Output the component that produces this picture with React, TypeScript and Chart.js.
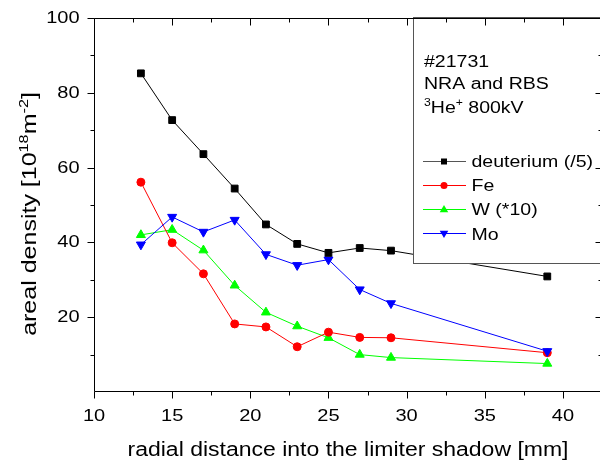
import React, { useEffect, useRef } from "react";
import { Chart, registerables } from "chart.js";

Chart.register(...registerables);

// ---- data ----
const distances = [13, 15, 17, 19, 21, 23, 25, 27, 29, 39];
const deuterium = [85.2, 72.7, 63.6, 54.4, 44.8, 39.6, 37.2, 38.5, 37.8, 30.9];
const iron = [56.1, 39.9, 31.6, 18.2, 17.4, 12.1, 16.0, 14.6, 14.5, 10.5];
const tungsten = [42.0, 43.4, 37.9, 28.5, 21.3, 17.6, 14.5, 10.0, 9.2, 7.6];
const molybdenum = [39.4, 46.8, 42.8, 46.0, 36.8, 33.9, 35.4, 27.4, 23.7, 10.9];
const seriesNames = ["deuterium (/5)", "Fe", "W (*10)", "Mo"];
const seriesColors = ["#000000", "#ff0000", "#00ff00", "#0000ff"];
const xTickValues = [10, 15, 20, 25, 30, 35, 40];
const xMinorTicks = [12.5, 17.5, 22.5, 27.5, 32.5, 37.5];
const yTickValues = [20, 40, 60, 80, 100];
const yMinorTicks = [10, 30, 50, 70, 90];
const infoLines = ["#21731", "NRA and RBS"];
const xTitle = "radial distance into the limiter shadow [mm]";

const FONT = '"Liberation Sans", Arial, Helvetica, sans-serif';

type Seg = { t: string; sup?: boolean };

function drawRich(
  ctx: CanvasRenderingContext2D,
  segs: Seg[],
  x: number,
  y: number,
  size: number,
  align: "left" | "center" | "right",
  stretch: number,
  rot = 0
) {
  const supSize = Math.round(size * 0.65);
  ctx.save();
  ctx.translate(x, y);
  if (rot) ctx.rotate(rot);
  ctx.scale(stretch, 1);
  ctx.textBaseline = "alphabetic";
  ctx.textAlign = "left";
  ctx.fillStyle = "#000";
  let total = 0;
  const widths = segs.map((s) => {
    ctx.font = `${s.sup ? supSize : size}px ${FONT}`;
    const w = ctx.measureText(s.t).width;
    total += w;
    return w;
  });
  let cx = align === "center" ? -total / 2 : align === "right" ? -total : 0;
  segs.forEach((s, i) => {
    ctx.font = `${s.sup ? supSize : size}px ${FONT}`;
    ctx.fillText(s.t, cx, s.sup ? -size * 0.42 : 0);
    cx += widths[i];
  });
  ctx.restore();
}

function drawMarker(ctx: CanvasRenderingContext2D, kind: string, x: number, y: number, r: number, color: string) {
  ctx.save();
  ctx.fillStyle = color;
  ctx.beginPath();
  if (kind === "rect") {
    ctx.rect(x - r, y - r, 2 * r, 2 * r);
  } else if (kind === "circle") {
    ctx.arc(x, y, r, 0, Math.PI * 2);
  } else if (kind === "up") {
    ctx.moveTo(x, y - r);
    ctx.lineTo(x + r * 0.95, y + r * 0.6);
    ctx.lineTo(x - r * 0.95, y + r * 0.6);
    ctx.closePath();
  } else {
    ctx.moveTo(x, y + r);
    ctx.lineTo(x + r * 0.95, y - r * 0.6);
    ctx.lineTo(x - r * 0.95, y - r * 0.6);
    ctx.closePath();
  }
  ctx.fill();
  ctx.restore();
}

const framePlugin = {
  id: "originFrame",
  afterDatasetsDraw(chart: any) {
    const ctx: CanvasRenderingContext2D = chart.ctx;
    const ca = chart.chartArea;
    const xs = chart.scales.x;
    const ys = chart.scales.y;
    const L = Math.round(ca.left) + 0.5;
    const R = Math.round(ca.right) + 0.5;
    const T = Math.round(ca.top) + 0.5;
    const B = Math.round(ca.bottom) - 0.5;

    // legend / info box
    ctx.save();
    ctx.fillStyle = "#ffffff";
    ctx.fillRect(413, 17, 220, 246);
    ctx.strokeStyle = "#555555";
    ctx.lineWidth = 1;
    ctx.strokeRect(413.5, 17.5, 220, 246);
    ctx.restore();

    drawRich(ctx, [{ t: infoLines[0] }], 424, 66.5, 16, "left", 1.22);
    drawRich(ctx, [{ t: infoLines[1] }], 424, 89, 16, "left", 1.22);
    drawRich(
      ctx,
      [{ t: "3", sup: true }, { t: "He" }, { t: "+", sup: true }, { t: " 800kV" }],
      424,
      112.5,
      16,
      "left",
      1.22
    );
    const kinds = ["rect", "circle", "up", "down"];
    const sizes = [3, 3.5, 4.5, 4.5];
    seriesNames.forEach((name, i) => {
      const my = 160.5 + i * 24.2;
      ctx.save();
      ctx.strokeStyle = i === 0 ? "#555555" : seriesColors[i];
      ctx.lineWidth = 1;
      ctx.beginPath();
      ctx.moveTo(423, Math.round(my) + 0.5);
      ctx.lineTo(466, Math.round(my) + 0.5);
      ctx.stroke();
      ctx.restore();
      drawMarker(ctx, kinds[i], 444, Math.round(my) + 0.5, sizes[i], seriesColors[i]);
      drawRich(ctx, [{ t: name }], 471.5, my + 6.5, 16, "left", 1.22);
    });

    // frame
    ctx.save();
    ctx.strokeStyle = "#000";
    ctx.lineWidth = 1;
    ctx.beginPath();
    ctx.moveTo(L, T);
    ctx.lineTo(R, T);
    ctx.lineTo(R, B);
    ctx.lineTo(L, B);
    ctx.closePath();
    ctx.stroke();

    const major = 7;
    const minor = 4;
    ctx.beginPath();
    xs.ticks.forEach((tk: any) => {
      const px = Math.round(xs.getPixelForValue(tk.value)) + 0.5;
      ctx.moveTo(px, B);
      ctx.lineTo(px, B + major);
      ctx.moveTo(px, T);
      ctx.lineTo(px, T + major);
    });
    xMinorTicks.forEach((v) => {
      const px = Math.round(xs.getPixelForValue(v)) + 0.5;
      ctx.moveTo(px, B);
      ctx.lineTo(px, B + minor);
      ctx.moveTo(px, T);
      ctx.lineTo(px, T + minor);
    });
    ys.ticks.forEach((tk: any) => {
      const py = Math.round(ys.getPixelForValue(tk.value)) + 0.5;
      ctx.moveTo(L, py);
      ctx.lineTo(L - major, py);
      ctx.moveTo(R, py);
      ctx.lineTo(R - major, py);
    });
    yMinorTicks.forEach((v) => {
      const py = Math.round(ys.getPixelForValue(v)) + 0.5;
      ctx.moveTo(L, py);
      ctx.lineTo(L - minor, py);
      ctx.moveTo(R, py);
      ctx.lineTo(R - minor, py);
    });
    ctx.stroke();
    ctx.restore();

    // tick labels
    xs.ticks.forEach((tk: any) => {
      const px = xs.getPixelForValue(tk.value);
      drawRich(ctx, [{ t: String(tk.value) }], px, 421, 16, "center", 1.25);
    });
    ys.ticks.forEach((tk: any) => {
      const py = ys.getPixelForValue(tk.value);
      drawRich(ctx, [{ t: String(tk.value) }], 79.5, py + 5, 16, "right", 1.25);
    });

    // axis titles
    drawRich(ctx, [{ t: xTitle }], (ca.left + ca.right) / 2, 456, 20, "center", 1.15);
    drawRich(
      ctx,
      [
        { t: "areal density [10" },
        { t: "18", sup: true },
        { t: "m" },
        { t: "-2", sup: true },
        { t: "]" },
      ],
      36,
      214,
      20,
      "center",
      1.25,
      -Math.PI / 2
    );
  },
};

function pts(values: number[]) {
  return distances.map((d, i) => ({ x: d, y: values[i] }));
}

export default function App() {
  const ref = useRef<HTMLCanvasElement>(null);
  useEffect(() => {
    if (!ref.current) return;
    const common = { borderWidth: 1, pointBorderWidth: 1, showLine: true, tension: 0 };
    const chart = new Chart(ref.current, {
      type: "scatter",
      data: {
        datasets: [
          {
            ...common,
            label: seriesNames[0],
            data: pts(deuterium),
            borderColor: seriesColors[0],
            backgroundColor: seriesColors[0],
            pointStyle: "rect",
            pointRadius: 4.8,
          },
          {
            ...common,
            label: seriesNames[3],
            data: pts(molybdenum),
            borderColor: seriesColors[3],
            backgroundColor: seriesColors[3],
            pointStyle: "triangle",
            rotation: 180,
            pointRadius: 5.2,
          },
          {
            ...common,
            label: seriesNames[1],
            data: pts(iron),
            borderColor: seriesColors[1],
            backgroundColor: seriesColors[1],
            pointStyle: "circle",
            pointRadius: 4,
          },
          {
            ...common,
            label: seriesNames[2],
            data: pts(tungsten),
            borderColor: seriesColors[2],
            backgroundColor: seriesColors[2],
            pointStyle: "triangle",
            pointRadius: 5.2,
          },
        ] as any,
      },
      options: {
        responsive: false,
        animation: false,
        events: [],
        layout: { padding: { left: 0, top: 18, right: 8, bottom: 0 } },
        plugins: { legend: { display: false }, tooltip: { enabled: false } },
        scales: {
          x: {
            type: "linear",
            min: 10,
            max: 42.5,
            afterBuildTicks: (s: any) => {
              s.ticks = xTickValues.map((v) => ({ value: v }));
            },
            afterFit: (s: any) => {
              s.height = 72;
            },
            ticks: { display: false },
            grid: { display: false },
            border: { display: false },
          },
          y: {
            type: "linear",
            min: 0,
            max: 100,
            afterBuildTicks: (s: any) => {
              s.ticks = yTickValues.map((v) => ({ value: v }));
            },
            afterFit: (s: any) => {
              s.width = 94;
            },
            ticks: { display: false },
            grid: { display: false },
            border: { display: false },
          },
        },
      } as any,
      plugins: [framePlugin],
    });
    return () => chart.destroy();
  }, []);
  return (
    <div
      style={{
        position: "absolute",
        left: 0,
        top: 0,
        width: 600,
        height: 464,
        overflow: "hidden",
        background: "#ffffff",
      }}
    >
      <canvas ref={ref} width={610} height={464} style={{ display: "block" }} />
    </div>
  );
}
